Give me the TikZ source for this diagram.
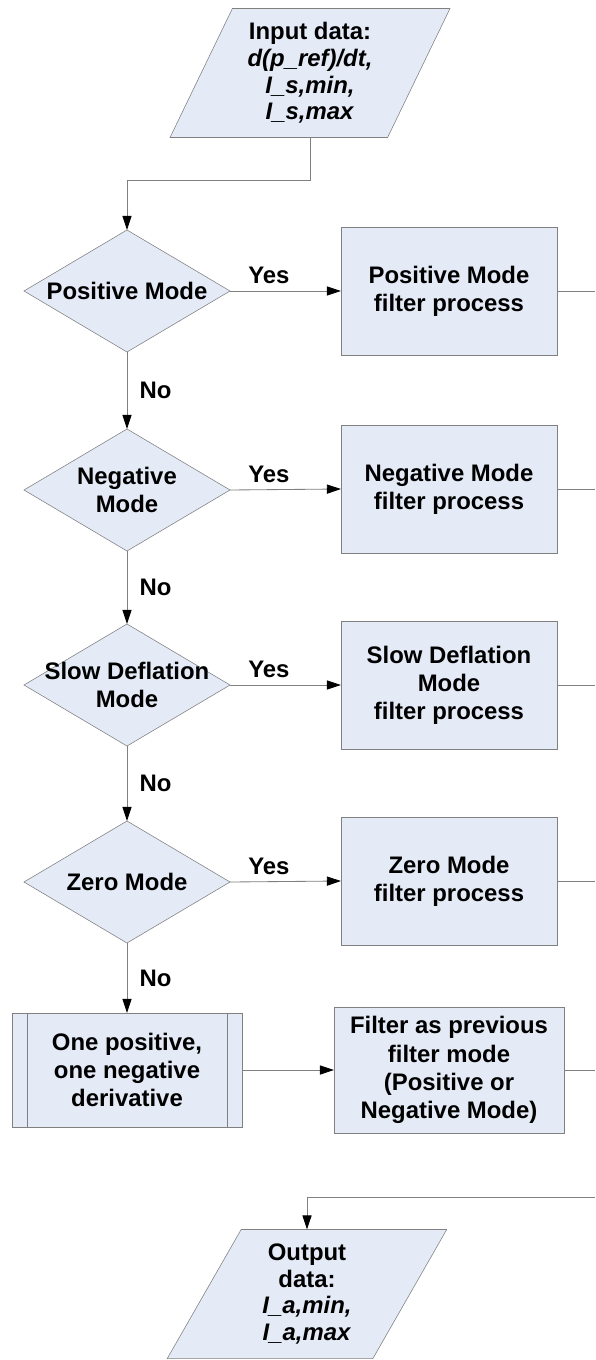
\documentclass[tikz,border=0pt]{standalone}
\usepackage{fontspec}
\setmainfont{Liberation Sans}
\usetikzlibrary{arrows.meta}
\usetikzlibrary{shapes.geometric, positioning, calc}
\definecolor{boxfill}{RGB}{228,234,246}
\definecolor{edgegray}{RGB}{128,128,128}

\begin{document}
\begin{tikzpicture}[x=0.025cm, y=-0.025cm,
    font=\fontsize{17}{20}\selectfont\bfseries,
    every node/.style={align=center, inner sep=0pt, outer sep=0pt},
    decision/.style={diamond, draw=edgegray, fill=boxfill, minimum width=5.15cm, minimum height=3.05cm},
    procbox/.style={rectangle, draw=edgegray, fill=boxfill, minimum width=5.4cm, minimum height=3.2cm},
    iobox/.style={trapezium, trapezium left angle=63.6, trapezium right angle=116.4, trapezium stretches=true,
      draw=edgegray, fill=boxfill, minimum width=7cm, minimum height=3.225cm},
    flow/.style={draw=edgegray, line width=0.6pt},
    >={Triangle[length=10pt, width=6.5pt, color=black]}]
      \useasboundingbox (0,0) rectangle (595,1360);

      % input / output
      \node[iobox, font=\fontsize{17}{19}\selectfont\bfseries] (in) at (310,73) {Input data:\\\textit{d(p\_ref)/dt,}\\\textit{I\_s,min,}\\\textit{I\_s,max}};
      \node[iobox, font=\fontsize{17}{19}\selectfont\bfseries] (out) at (307,1294) {Output\\data:\\\textit{I\_a,min,}\\\textit{I\_a,max}};

      % mode checks
      \node[decision, label={center:Positive Mode}] (pm) at (127,291) {};
      \node[decision, label={center:Negative\\Mode}] (nm) at (127,490) {};
      \node[decision, label={center:Slow Deflation\\Mode}] (sd) at (127,685) {};
      \node[decision, label={center:Zero Mode}] (zm) at (127,882) {};
      \node[procbox, minimum width=5.75cm, minimum height=2.85cm] (mix) at (127,1070) {One positive,\\one negative\\derivative};
      \draw[flow] ([xshift=0.375cm]mix.north west) -- ([xshift=0.375cm]mix.south west)
                  ([xshift=-0.375cm]mix.north east) -- ([xshift=-0.375cm]mix.south east);

      % filter processes
      \node[procbox] (pmf) at (449,291) {Positive Mode\\filter process};
      \node[procbox] (nmf) at (449,489) {Negative Mode\\filter process};
      \node[procbox] (sdf) at (449,685) {Slow Deflation\\Mode\\filter process};
      \node[procbox] (zmf) at (449,881) {Zero Mode\\filter process};
      \node[procbox, minimum width=5.75cm, minimum height=3.15cm] (prev) at (449,1070) {Filter as previous\\filter mode\\(Positive or\\Negative Mode)};

      \draw[flow, ->] (in.south) -- ++(0,43) -| (pm.north);
      \draw[flow, ->] (pm.south) -- node[right=9pt] {No} (nm.north);
      \draw[flow, ->] (nm.south) -- node[right=9pt] {No} (sd.north);
      \draw[flow, ->] (sd.south) -- node[right=9pt] {No} (zm.north);
      \draw[flow, ->] (zm.south) -- node[right=9pt] {No} (mix.north);

      \draw[flow, ->] (pm.east) -- node[pos=0.35, above=5pt] {Yes} (pmf.west);
      \draw[flow, ->] (nm.east) -- node[pos=0.35, above=5pt] {Yes} (nmf.west);
      \draw[flow, ->] (sd.east) -- node[pos=0.35, above=5pt] {Yes} (sdf.west);
      \draw[flow, ->] (zm.east) -- node[pos=0.35, above=5pt] {Yes} (zmf.west);
      \draw[flow, ->] (mix.east) -- (prev.west);

      % lines to the right edge and back to the output
      \coordinate (rim) at (595,0);
      \foreach \n in {pmf,nmf,sdf,zmf,prev}
        \draw[flow] (\n.east) -- (\n.east -| rim);
      \coordinate (back) at (595,1197);
      \draw[flow, ->] (back) -| (out.north);

    \end{tikzpicture}
\end{document}
